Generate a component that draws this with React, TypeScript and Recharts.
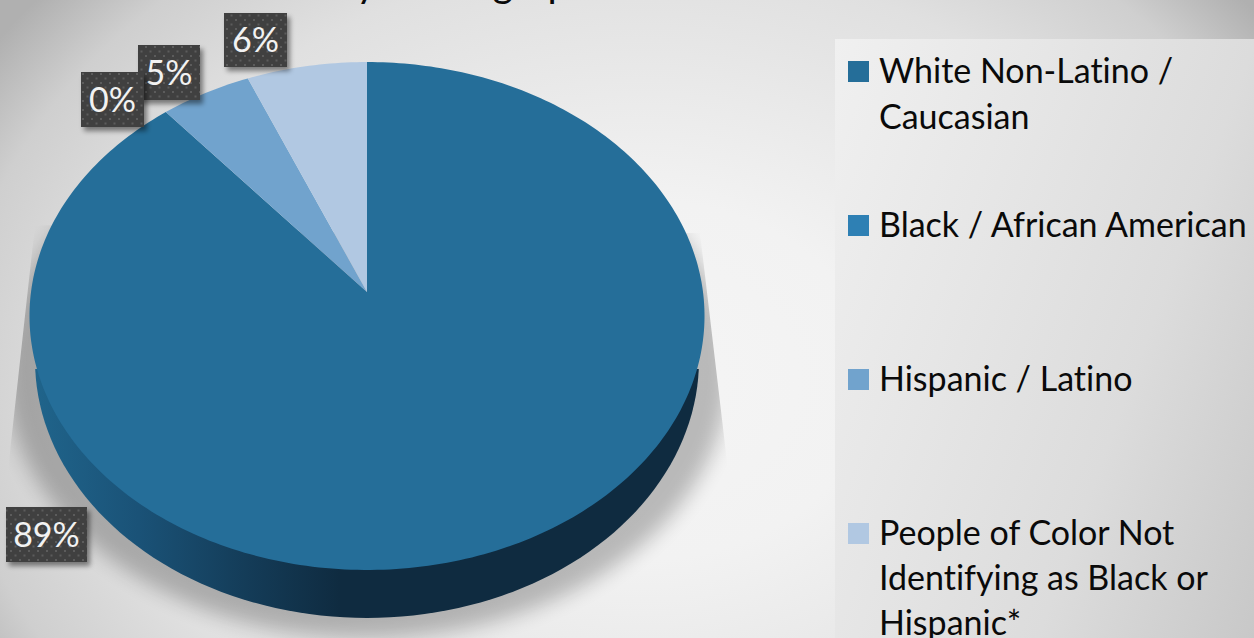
import React from "react";
import { PieChart, Pie, Legend } from "recharts";

const categories = [
  "White Non-Latino / Caucasian",
  "Black / African American",
  "Hispanic / Latino",
  "People of Color Not Identifying as Black or Hispanic*",
];
const shares = [88.9, 0, 4.8, 6.3];
const palette = ["#256e99", "#2e80b4", "#71a3cd", "#b1c8e2"];
const chartTitle = "Race / Ethnicity Demographics";

const rows = categories.map((name, i) => ({ name, value: shares[i], fill: palette[i] }));

const W = 1254;
const H = 638;
const FONT = "Lato, 'Open Sans', sans-serif";
const APEX = { x: 367, y: 292 };
const PERSP = { a: 336, b: 251.7, k: -0.0945 };
const LABEL_BOXES = [
  { x: 6, y: 507, w: 81, h: 55 },
  { x: 81, y: 72, w: 63, h: 55 },
  { x: 138, y: 45, w: 62, h: 55 },
  { x: 224, y: 13, w: 63, h: 54 },
];
const LABEL_PAINT_ORDER = [0, 2, 1, 3];

const rim = (deg: number) => {
  const t = (deg * Math.PI) / 180;
  const ux = Math.cos(t);
  const uy = -Math.sin(t);
  const d = 1 + PERSP.k * uy;
  return { x: APEX.x + (PERSP.a * ux) / d, y: APEX.y + (PERSP.b * uy) / d };
};

const sectorPath = (start: number, end: number) => {
  const n = Math.max(2, Math.ceil(Math.abs(end - start)));
  let path = `M${APEX.x},${APEX.y}`;
  for (let i = 0; i <= n; i++) {
    const p = rim(start + ((end - start) * i) / n);
    path += `L${p.x.toFixed(2)},${p.y.toFixed(2)}`;
  }
  return path + "Z";
};

const wallPath = () => {
  const cx = APEX.x;
  const cy = 360;
  const rx = 332;
  const ry = 258;
  let path = "";
  for (let d = 2; d <= 178; d += 2) {
    const t = (d * Math.PI) / 180;
    path += `${d === 2 ? "M" : "L"}${(cx + rx * Math.cos(t)).toFixed(2)},${(cy + ry * Math.sin(t)).toFixed(2)}`;
  }
  return path + "Z";
};

const Slice = (props: any) => {
  const { startAngle, endAngle, fill } = props;
  if (Math.abs(endAngle - startAngle) < 0.01) return null;
  const hi = Math.max(startAngle, endAngle);
  const lo = Math.min(startAngle, endAngle);
  const frontFacing = lo <= -90 && hi >= -90;
  return (
    <g>
      {frontFacing && (
        <g>
          <g clipPath="url(#shadowClip)">
            <ellipse cx={APEX.x} cy={370} rx={362} ry={268} fill="#000" opacity={0.24} filter="url(#softBlur)" />
          </g>
          <path d={wallPath()} fill="url(#wallFill)" />
        </g>
      )}
      <path d={sectorPath(startAngle, endAngle)} fill={fill} />
    </g>
  );
};

const renderLabel = (props: any) => {
  const slot = LABEL_PAINT_ORDER[props.index];
  const total = shares.reduce((s, v) => s + v, 0);
  const box = LABEL_BOXES[slot];
  const text = `${Math.round((shares[slot] / total) * 100)}%`;
  return (
    <g key={slot}>
      <rect x={box.x} y={box.y} width={box.w} height={box.h} fill="#404040" filter="url(#boxShadow)" />
      <rect x={box.x} y={box.y} width={box.w} height={box.h} fill="url(#boxDots)" />
      <text
        x={box.x + box.w / 2}
        y={box.y + box.h / 2 + 12}
        textAnchor="middle"
        fontFamily={FONT}
        fontSize={34}
        fill="#f2f2f2"
      >
        {text}
      </text>
    </g>
  );
};

const LegendBlock = ({ payload }: any) => (
  <div style={{ position: "relative", width: W, height: H }}>
    {(payload || []).map((entry: any, i: number) => (
      <div key={i} style={{ position: "absolute", left: 848, top: 47 + 154 * i, width: 380 }}>
        <div style={{ position: "absolute", left: 0, top: 14, width: 21, height: 21, background: entry.color }} />
        <div
          style={{
            position: "absolute",
            left: 31,
            top: 0,
            width: 375,
            fontFamily: FONT,
            fontSize: 34,
            lineHeight: i === 3 ? "45px" : "46px",
            fontVariantLigatures: "none",
            color: "#0a0a0a",
          }}
        >
          {entry.value}
        </div>
      </div>
    ))}
  </div>
);

export default function App() {
  return (
    <div
      style={{
        position: "absolute",
        left: 0,
        top: 0,
        width: W,
        height: H,
        overflow: "hidden",
        background:
          "radial-gradient(ellipse 780px 600px at 640px 380px, #f5f5f5 0%, #f2f2f2 30%, #e0e0e0 70%, #cfcfcf 88%, #b0b0b0 100%)",
      }}
    >
      <div
        style={{
          position: "absolute",
          left: 835,
          top: 39,
          width: W - 835,
          height: H - 39,
          background: "linear-gradient(110deg, #f0f0f0 0%, #e6e6e6 34%, #dcdcdc 66%, #c8c8c8 100%)",
        }}
      />
      <div
        style={{
          position: "absolute",
          left: 99,
          top: -41,
          whiteSpace: "nowrap",
          fontFamily: FONT,
          fontSize: 40,
          lineHeight: "46px",
          fontVariantLigatures: "none",
          color: "#0a0a0a",
        }}
      >
        {chartTitle}
      </div>
      <div style={{ position: "absolute", left: 0, top: 0 }}>
        <PieChart width={W} height={H} margin={{ top: 0, right: 0, bottom: 0, left: 0 }}>
          <defs>
            <linearGradient id="wallFill" gradientUnits="userSpaceOnUse" x1={30} y1={0} x2={340} y2={0}>
              <stop offset="0%" stopColor="#20658c" />
              <stop offset="35%" stopColor="#1a5277" />
              <stop offset="70%" stopColor="#143c58" />
              <stop offset="100%" stopColor="#0f2b40" />
            </linearGradient>
            <filter id="softBlur" x="-10%" y="-10%" width="120%" height="120%">
              <feGaussianBlur stdDeviation={10} />
            </filter>
            <filter id="boxShadow" x="-20%" y="-20%" width="150%" height="150%">
              <feDropShadow dx={3} dy={4} stdDeviation={2.5} floodColor="#000" floodOpacity={0.45} />
            </filter>
            <clipPath id="shadowClip">
              <polygon points="35,225 8,470 8,638 728,638 728,470 700,233 367,233" />
            </clipPath>
            <pattern id="boxDots" width={9} height={9} patternUnits="userSpaceOnUse">
              <rect x={1} y={1} width={2} height={2} fill="#5c5c5c" />
              <rect x={5.5} y={5.5} width={2} height={2} fill="#5c5c5c" />
            </pattern>
          </defs>
          <Pie
            data={rows}
            dataKey="value"
            nameKey="name"
            cx={APEX.x}
            cy={APEX.y}
            outerRadius={250}
            startAngle={90}
            endAngle={-270}
            stroke="none"
            shape={Slice}
            label={renderLabel}
            labelLine={false}
            isAnimationActive={false}
          />
          <Legend
            content={LegendBlock as any}
            itemSorter={null}
            wrapperStyle={{ position: "absolute", left: 0, top: 0, width: W, height: H }}
          />
        </PieChart>
      </div>
    </div>
  );
}
